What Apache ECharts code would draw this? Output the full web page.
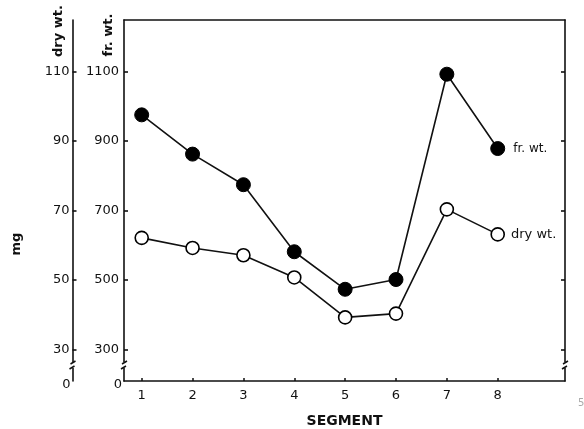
<!DOCTYPE html>
<html><head><meta charset="utf-8">
<script src="https://cdn.jsdelivr.net/npm/echarts@6/dist/echarts.min.js"></script>
<style>html,body{margin:0;padding:0;background:#fff}#c{width:584px;height:429px}</style>
</head><body><div id="c"></div>
<script>
const segments = [1, 2, 3, 4, 5, 6, 7, 8];
const frWt = [975, 862, 774, 581, 473, 501, 1092, 878];
const dryWt = [62.1, 59.2, 57.1, 50.7, 39.2, 40.3, 70.3, 63.1];
const frTicks = [300, 500, 700, 900, 1100];
const dryTicks = [30, 50, 70, 90, 110];
const frRange = [209, 1248];
const dryRange = [20.9, 124.8];
const xRange = [0.652, 9.323];

const FONT = '"DejaVu Sans", sans-serif';
const INK = '#111';
const chart = echarts.init(document.getElementById('c'), null, {renderer: 'canvas'});

function yAx(range, ticks, opts) {
  return Object.assign({
    type: 'value', min: range[0], max: range[1],
    axisLine: {show: true, lineStyle: {color: INK, width: 1.6}},
    axisTick: {show: true, inside: true, length: 4, customValues: ticks, lineStyle: {color: INK, width: 1.6}},
    splitLine: {show: false}
  }, opts);
}

const option = {
  animation: false,
  grid: {left: 124, right: 19, top: 20, bottom: 48, containLabel: false, outerBoundsMode: 'none'},
  xAxis: [{
    type: 'value', min: xRange[0], max: xRange[1], position: 'bottom',
    axisLine: {show: true, lineStyle: {color: INK, width: 1.6}},
    axisTick: {show: true, inside: true, length: 3, customValues: segments, lineStyle: {color: INK, width: 1.5}},
    axisLabel: {customValues: segments, color: INK, fontFamily: FONT, fontSize: 13, margin: 8},
    splitLine: {show: false},
    name: 'SEGMENT', nameLocation: 'middle', nameGap: 33,
    nameTextStyle: {color: INK, fontFamily: FONT, fontSize: 14, fontWeight: 'bold'}
  }, {
    type: 'value', min: xRange[0], max: xRange[1], position: 'top',
    axisLine: {show: true, lineStyle: {color: INK, width: 1.6}},
    axisTick: {show: false}, axisLabel: {show: false}, splitLine: {show: false}
  }],
  yAxis: [
    yAx(frRange, frTicks, {position: 'left', offset: 0, axisLabel: {show: true, customValues: frTicks, color: INK, fontFamily: FONT, fontSize: 13, margin: 5, formatter: v => String(v)}}),
    yAx(dryRange, dryTicks, {position: 'left', offset: 51.5, axisLabel: {show: true, customValues: dryTicks, color: INK, fontFamily: FONT, fontSize: 13, margin: 3, formatter: v => String(v)}}),
    yAx(frRange, frTicks, {position: 'right', offset: 0, axisLabel: {show: false}})
  ],
  series: [{
    name: 'fr. wt.', type: 'line', xAxisIndex: 0, yAxisIndex: 0,
    data: segments.map((s, i) => {
      const d = {value: [s, frWt[i]]};
      if (i === segments.length - 1) d.label = {show: true, position: 'right', distance: 8, formatter: 'fr. wt.', color: INK, fontFamily: FONT, fontSize: 12};
      return d;
    }),
    symbol: 'circle', symbolSize: 14,
    itemStyle: {color: '#000', borderColor: '#000', borderWidth: 1},
    lineStyle: {color: INK, width: 1.6}, z: 3
  }, {
    name: 'dry wt.', type: 'line', xAxisIndex: 0, yAxisIndex: 1,
    data: segments.map((s, i) => {
      const d = {value: [s, dryWt[i]]};
      if (i === segments.length - 1) d.label = {show: true, position: 'right', distance: 6, formatter: 'dry wt.', color: INK, fontFamily: FONT, fontSize: 13};
      return d;
    }),
    symbol: 'circle', symbolSize: 13,
    itemStyle: {color: '#fff', borderColor: '#000', borderWidth: 1.6},
    lineStyle: {color: INK, width: 1.6}, z: 4
  }]
};
chart.setOption(option);

// decorations: axis titles, zero labels and axis breaks
const xL = chart.convertToPixel({xAxisIndex: 0}, xRange[0]);
const xR = chart.convertToPixel({xAxisIndex: 0}, xRange[1]);
const xDry = xL - 51.5;
const yb = chart.convertToPixel({yAxisIndex: 0}, 255);
const yBottom = chart.convertToPixel({yAxisIndex: 0}, frRange[0]);
const g = [];
[xDry, xL, xR].forEach(x => {
  g.push({type: 'rect', shape: {x: x - 4, y: yb - 3, width: 8, height: 6}, style: {fill: '#fff'}, z: 100});
  g.push({type: 'line', shape: {x1: x + 3, y1: yb - 4, x2: x - 2, y2: yb - 1}, style: {stroke: INK, lineWidth: 1.5}, z: 101});
  g.push({type: 'line', shape: {x1: x + 2, y1: yb + 1, x2: x - 3, y2: yb + 4}, style: {stroke: INK, lineWidth: 1.5}, z: 101});
});
[xDry, xL].forEach(x => {
  g.push({type: 'text', x: x - 2, y: yBottom + 4, z: 100,
    style: {text: '0', fill: INK, font: '13px ' + FONT, textAlign: 'right', textVerticalAlign: 'middle'}});
});
function vtext(txt, x, y, size, weight) {
  return {type: 'text', x: x, y: y, rotation: Math.PI / 2, z: 100,
    style: {text: txt, fill: INK, font: weight + ' ' + size + 'px ' + FONT, textAlign: 'center', textVerticalAlign: 'middle'}};
}
g.push(vtext('dry wt.', 59, 31, 13, 'bold'));
g.push(vtext('fr. wt.', 109, 35, 13, 'bold'));
g.push(vtext('mg', 17, 244, 13, 'bold'));
g.push({type: 'text', x: 578, y: 398, z: 100, style: {text: '5', fill: '#aaa', font: '10px ' + FONT}});
chart.setOption({graphic: g});
</script>
</body></html>
